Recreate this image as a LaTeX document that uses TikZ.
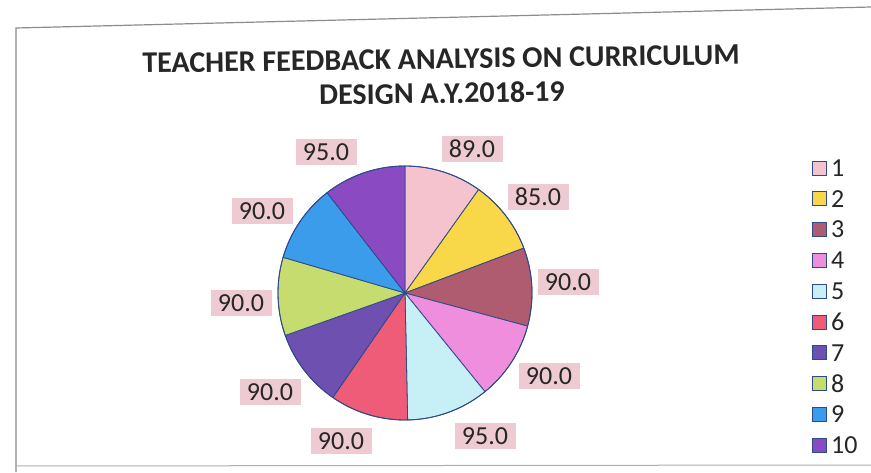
\documentclass[tikz,border=0pt]{standalone}
\usepackage{fontspec}
\setmainfont{Carlito}
\definecolor{s1}{HTML}{F4C3CE}
\definecolor{s2}{HTML}{F8D848}
\definecolor{s3}{HTML}{B05C70}
\definecolor{s4}{HTML}{F08EDE}
\definecolor{s5}{HTML}{C6F0F6}
\definecolor{s6}{HTML}{EE5C78}
\definecolor{s7}{HTML}{6E50B0}
\definecolor{s8}{HTML}{C6DC6E}
\definecolor{s9}{HTML}{3C9CEC}
\definecolor{s10}{HTML}{8A4AC2}
\definecolor{edgec}{HTML}{2E4A8A}
\definecolor{lblbg}{HTML}{EECAD2}
\definecolor{framec}{HTML}{8C8C8C}
\tikzset{
  vallabel/.style={fill=lblbg, inner sep=0pt, minimum width=61pt, minimum height=26pt,
    font=\fontsize{26}{26}\selectfont, text=black!85},
  legbox/.style={draw=edgec, line width=0.9pt, minimum size=14pt, inner sep=0pt},
  legtext/.style={anchor=west, inner sep=0pt, font=\fontsize{26}{26}\selectfont, text=black!85},
  titletext/.style={font=\bfseries\fontsize{30}{30}\selectfont, text=black!85, rotate=0.8},
  slice/.style={draw=edgec, line width=0.8pt, line join=round}
}
\begin{document}
\begin{tikzpicture}[x=1pt,y=1pt]
\useasboundingbox (0,0) rectangle (871,472);
\fill[white] (0,0) rectangle (871,472);
% frame (scanned)
\draw[framec, line width=1.2pt] (871,465) -- (16,444) -- (16,0);
\draw[framec!70, line width=1pt] (16,6) -- (871,7);
% title
\node[titletext] (t1) at (441,413) {TEACHER FEEDBACK ANALYSIS ON CURRICULUM};
\node[titletext] (t2) at (442,379) {DESIGN A.Y.2018-19};
% pie
\coordinate (c) at (405,179);
\def\R{127}
\foreach \a/\b/\col in {90/54.558/s1, 54.558/20.708/s2, 20.708/-15.133/s3,
  -15.133/-50.973/s4, -50.973/-88.805/s5, -88.805/-124.646/s6,
  -124.646/-160.487/s7, -160.487/-196.327/s8, -196.327/-232.168/s9,
  -232.168/-270/s10}{
  \filldraw[slice, fill=\col] (c) -- ++(\a:\R) arc[start angle=\a, end angle=\b, radius=\R] -- cycle;
}
\draw[edgec, line width=0.9pt] (c) circle[radius=\R];
% value labels
\node[vallabel] (l1) at (472,323) {89.0};
\node[vallabel] (l2) at (538,275) {85.0};
\node[vallabel] (l3) at (568,190) {90.0};
\node[vallabel] (l4) at (549,96) {90.0};
\node[vallabel] (l5) at (485,36) {95.0};
\node[vallabel] (l6) at (341,31) {90.0};
\node[vallabel] (l7) at (270,80) {90.0};
\node[vallabel] (l8) at (241,169) {90.0};
\node[vallabel] (l9) at (262,261) {90.0};
\node[vallabel] (l10) at (326,320) {95.0};
% legend
\foreach \i in {1,...,10}{
  \pgfmathsetmacro{\yy}{304-30.8*(\i-1)}
  \node[legbox, fill=s\i] (k\i) at (819,\yy) {};
  \node[legtext] (kt\i) at (831,\yy) {\i};
}
\end{tikzpicture}
\end{document}
